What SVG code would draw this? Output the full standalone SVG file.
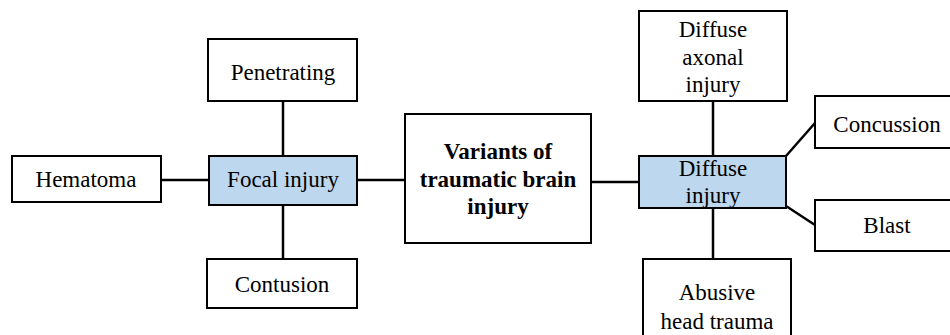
<svg xmlns="http://www.w3.org/2000/svg" width="950" height="335" viewBox="0 0 950 335">
<style>
.box{fill:#ffffff;stroke:#000000;stroke-width:2}
.blue{fill:#BDD7EE;stroke:#000000;stroke-width:2}
.t{font-family:'Liberation Serif','Times New Roman','DejaVu Serif',serif;font-size:23px;fill:#000000;text-anchor:middle}
.b{font-weight:bold}
.c{stroke:#000000;stroke-width:2.5;fill:none}
</style>
<rect width="950" height="335" fill="#ffffff"/>
<g id="connectors">
<line class="c" x1="283" y1="101" x2="283" y2="156"/>
<line class="c" x1="283" y1="205" x2="283" y2="259"/>
<line class="c" x1="161" y1="180" x2="209" y2="180"/>
<line class="c" x1="357" y1="180" x2="405" y2="180"/>
<line class="c" x1="591" y1="182" x2="639" y2="182"/>
<line class="c" x1="713" y1="101" x2="713" y2="156"/>
<line class="c" x1="713" y1="208" x2="713" y2="259"/>
<line class="c" x1="786" y1="156" x2="815" y2="123"/>
<line class="c" x1="786" y1="206" x2="815" y2="225"/>
</g>
<g id="penetrating">
<rect class="box" x="208" y="39" width="149" height="62"/>
<text class="t" x="283" y="80">Penetrating</text>
</g>
<g id="hematoma">
<rect class="box" x="12" y="156" width="149" height="46"/>
<text class="t" x="86" y="187">Hematoma</text>
</g>
<g id="focal">
<rect class="blue" x="209" y="156" width="148" height="49"/>
<text class="t" x="283" y="187">Focal injury</text>
</g>
<g id="contusion">
<rect class="box" x="207" y="259" width="150" height="49"/>
<text class="t" x="282" y="292">Contusion</text>
</g>
<g id="variants">
<rect class="box" x="405" y="114" width="186" height="129"/>
<text class="t b" x="498" y="159">Variants of</text>
<text class="t b" x="498" y="187">traumatic brain</text>
<text class="t b" x="498" y="214">injury</text>
</g>
<g id="diffuse-axonal">
<rect class="box" x="639" y="11" width="148" height="90"/>
<text class="t" x="713" y="37">Diffuse</text>
<text class="t" x="713" y="65">axonal</text>
<text class="t" x="713" y="92">injury</text>
</g>
<g id="diffuse">
<rect class="blue" x="639" y="156" width="147" height="52"/>
<text class="t" x="713" y="176">Diffuse</text>
<text class="t" x="713" y="203">injury</text>
</g>
<g id="concussion">
<rect class="box" x="815" y="96" width="150" height="52"/>
<text class="t" x="887" y="132">Concussion</text>
</g>
<g id="blast">
<rect class="box" x="815" y="200" width="150" height="51"/>
<text class="t" x="887" y="233">Blast</text>
</g>
<g id="abusive">
<rect class="box" x="643" y="259" width="148" height="90"/>
<text class="t" x="717" y="300">Abusive</text>
<text class="t" x="717" y="329">head trauma</text>
</g>
</svg>
